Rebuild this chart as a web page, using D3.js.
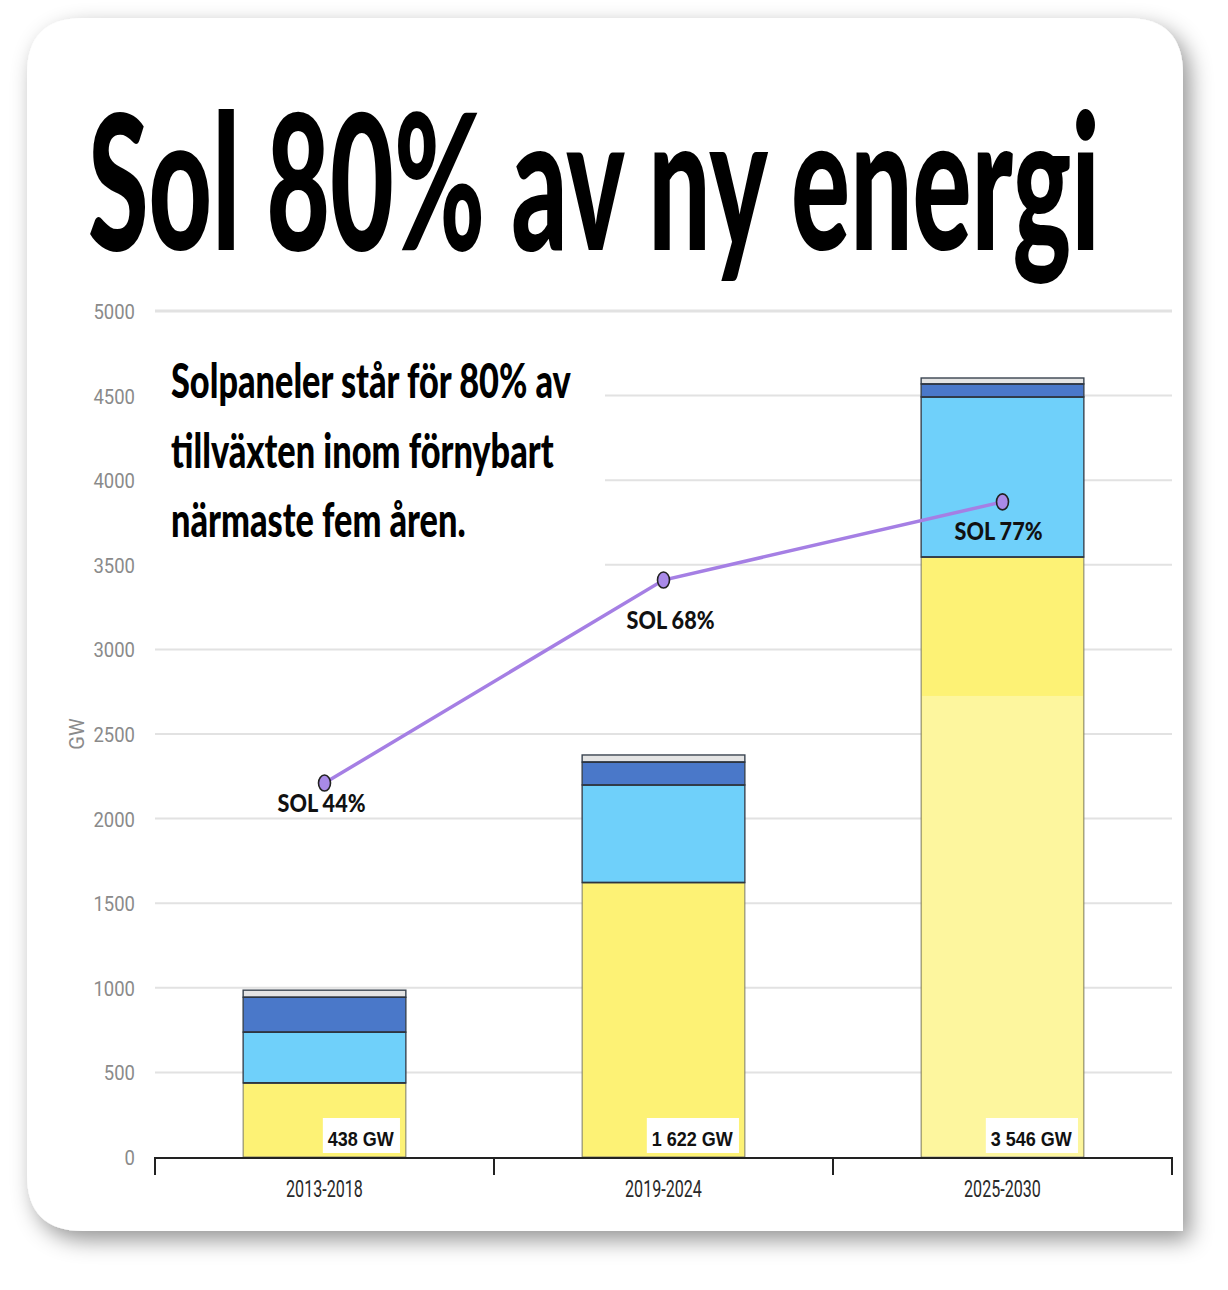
<!DOCTYPE html>
<html>
<head>
<meta charset="utf-8">
<script src="https://cdn.jsdelivr.net/npm/d3@7/dist/d3.min.js"></script>
<style>
  html, body { margin: 0; padding: 0; background: #ffffff; }
  svg { display: block; }
</style>
</head>
<body>
<svg id="chart" width="1228" height="1290"></svg>
<script>
// ---------- DATA ----------
const categories = ["2013-2018", "2019-2024", "2025-2030"];
const seriesNames = ["Sol", "Vind", "Vattenkraft", "Övrigt"];
const solValues   = [438, 1622, 3546];
const vindValues  = [300, 577, 946];
const vattenValues = [206, 135, 77];
const ovrigtValues = [42, 42, 35];
const lineValues  = [2210, 3410, 3872];
const lineLabels  = ["SOL 44%", "SOL 68%", "SOL 77%"];
const yTicks      = [0, 500, 1000, 1500, 2000, 2500, 3000, 3500, 4000, 4500, 5000];
const fadedBelow  = [null, null, 2725];
const titleText   = "Sol 80% av ny energi";
const subtitleLines = ["Solpaneler står för 80% av", "tillväxten inom förnybart", "närmaste fem åren."];
const yAxisLabel  = "GW";

// ---------- LAYOUT / STYLE ----------
const colors = ["#fdf275", "#6fd0fa", "#4a78c9", "#e4e4e4"];
const plot = { left: 155, right: 1172, top: 311, bottom: 1157 };
const card = { x: 27, y: 18, x2: 1183, y2: 1231, r: 56 };
const labelOffsets = [{dx: -3, dy: 29}, {dx: 7, dy: 49}, {dx: -4, dy: 38}];

const svg = d3.select("#chart");
const defs = svg.append("defs");
const f = defs.append("filter").attr("id", "shadow")
  .attr("x", "-10%").attr("y", "-10%").attr("width", "120%").attr("height", "120%");
f.append("feDropShadow").attr("dx", 7).attr("dy", 9).attr("stdDeviation", 11)
  .attr("flood-color", "#000").attr("flood-opacity", 0.42);

// card: rounded except bottom-right
const c = card;
const cardPath = `M${c.x + c.r},${c.y} L${c.x2 - c.r},${c.y} Q${c.x2},${c.y} ${c.x2},${c.y + c.r}
  L${c.x2},${c.y2} L${c.x + c.r},${c.y2} Q${c.x},${c.y2} ${c.x},${c.y2 - c.r}
  L${c.x},${c.y + c.r} Q${c.x},${c.y} ${c.x + c.r},${c.y} Z`;
svg.append("path").attr("d", cardPath).attr("fill", "#fff").attr("filter", "url(#shadow)");

function condenseBy(sel, k) {
  sel.each(function () {
    const L = this.getComputedTextLength();
    d3.select(this).attr("textLength", L * k).attr("lengthAdjust", "spacingAndGlyphs");
  });
}
function fitTo(sel, w) {
  const L = sel.node().getComputedTextLength();
  sel.attr("textLength", w).attr("lengthAdjust", "spacingAndGlyphs");
  return w / L;
}
// horizontal squeeze via transform (keeps bounding box honest)
function squeeze(sel, x0, y0, k) {
  sel.attr("x", 0).attr("y", 0).attr("transform", `translate(${x0},${y0}) scale(${k},1)`);
}

// ---------- SCALES ----------
const x = d3.scaleBand().domain(categories).range([plot.left, plot.right])
  .paddingInner(0.52).paddingOuter(0.26);
const y = d3.scaleLinear().domain([0, 5000]).range([plot.bottom, plot.top]);

// ---------- GRID ----------
svg.append("g").selectAll("line").data(yTicks.filter(d => d > 0)).join("line")
  .attr("x1", plot.left).attr("x2", plot.right)
  .attr("y1", d => y(d)).attr("y2", d => y(d))
  .attr("stroke", "#e2e2e2").attr("stroke-width", d => d === 5000 ? 3 : 2);

// white block behind subtitle
svg.append("rect").attr("x", plot.left - 2).attr("y", y(5000) + 16)
  .attr("width", 605 - plot.left + 2).attr("height", y(3500) - y(5000) - 6)
  .attr("fill", "#fff");

// ---------- Y AXIS ----------
const yAxis = d3.axisLeft(y).tickValues(yTicks).tickSize(0).tickPadding(0).tickFormat(d3.format("d"));
const yg = svg.append("g").attr("transform", `translate(135,0)`).call(yAxis);
yg.select(".domain").remove();
yg.selectAll("text").attr("font-family", "Roboto, 'Noto Sans', sans-serif")
  .attr("font-size", 21).attr("fill", "#8a8a8a").attr("dy", "0.36em");
condenseBy(yg.selectAll("text"), 0.88);

svg.append("text").attr("transform", `translate(84,${y(2500)}) rotate(-90)`)
  .attr("text-anchor", "middle").attr("font-family", "Roboto, sans-serif")
  .attr("font-size", 20).attr("fill", "#8a8a8a").text(yAxisLabel);

// ---------- BARS ----------
const rows = categories.map((cat, i) => ({
  cat, Sol: solValues[i], Vind: vindValues[i], Vattenkraft: vattenValues[i], "Övrigt": ovrigtValues[i]
}));
const stack = d3.stack().keys(seriesNames)(rows);
const barsG = svg.append("g");
stack.forEach((layer, li) => {
  barsG.append("g").selectAll("rect").data(layer).join("rect")
    .attr("x", d => x(d.data.cat))
    .attr("width", x.bandwidth())
    .attr("y", d => y(d[1]))
    .attr("height", d => y(d[0]) - y(d[1]))
    .attr("fill", colors[li])
    .attr("stroke", li === 0 ? "#7a7a6a" : "#3a4450")
    .attr("stroke-width", li === 0 ? 1 : 1.4);
});
barsG.append("g").selectAll("line").data(stack.slice(0, 3).flatMap(l => l)).join("line")
  .attr("x1", d => x(d.data.cat)).attr("x2", d => x(d.data.cat) + x.bandwidth())
  .attr("y1", d => y(d[1])).attr("y2", d => y(d[1]))
  .attr("stroke", "#2d3540").attr("stroke-width", 1.6);
barsG.append("g").selectAll("rect").data(categories.filter((c, i) => fadedBelow[i] !== null)).join("rect")
  .attr("x", d => x(d) + 1).attr("width", x.bandwidth() - 2)
  .attr("y", d => y(fadedBelow[categories.indexOf(d)]))
  .attr("height", d => y(0) - y(fadedBelow[categories.indexOf(d)]))
  .attr("fill", "#fff").attr("opacity", 0.3);

// ---------- VALUE LABELS ----------
const fmt = d3.formatLocale({ decimal: ",", thousands: " ", grouping: [3], currency: ["", ""] }).format(",d");
const vg = svg.append("g");
categories.forEach((cat, i) => {
  const g = vg.append("g");
  const t = g.append("text")
    .attr("x", x(cat) + x.bandwidth() - 12).attr("y", plot.bottom - 11)
    .attr("text-anchor", "end")
    .attr("font-family", "'Liberation Sans', Arial, sans-serif").attr("font-weight", 700)
    .attr("font-size", 20).attr("fill", "#111")
    .text(fmt(solValues[i]) + " GW");
  condenseBy(t, 0.9);
  const bb = t.node().getBBox();
  g.insert("rect", "text").attr("x", bb.x - 5).attr("y", plot.bottom - 39)
    .attr("width", bb.width + 11).attr("height", 35).attr("fill", "#fff");
});

// ---------- X AXIS ----------
const ax = svg.append("g");
ax.append("line").attr("x1", plot.left).attr("x2", plot.right)
  .attr("y1", plot.bottom + 1).attr("y2", plot.bottom + 1)
  .attr("stroke", "#222").attr("stroke-width", 2);
const bounds = d3.range(categories.length + 1).map(i => x.range()[0] + i * x.step());
ax.selectAll("line.tk").data(bounds).join("line").attr("class", "tk")
  .attr("x1", d => d).attr("x2", d => d)
  .attr("y1", plot.bottom).attr("y2", plot.bottom + 18)
  .attr("stroke", "#222").attr("stroke-width", 2);
const xl = ax.selectAll("text").data(categories).join("text")
  .attr("x", d => x(d) + x.bandwidth() / 2).attr("y", plot.bottom + 40)
  .attr("text-anchor", "middle").attr("font-family", "Roboto, sans-serif")
  .attr("font-size", 23).attr("fill", "#2a2a2a").text(d => d);
condenseBy(xl, 0.7);

// ---------- LINE ----------
const pts = categories.map((cat, i) => [x(cat) + x.bandwidth() / 2, y(lineValues[i])]);
svg.append("path").attr("d", d3.line()(pts)).attr("fill", "none")
  .attr("stroke", "#a57fe4").attr("stroke-width", 3.5);
svg.append("g").selectAll("ellipse").data(pts).join("ellipse")
  .attr("cx", d => d[0]).attr("cy", d => d[1]).attr("rx", 6).attr("ry", 8)
  .attr("fill", "#a98ae8").attr("stroke", "#222").attr("stroke-width", 1.6);
const sl = svg.append("g").selectAll("text").data(lineLabels).join("text")
  .attr("x", (d, i) => pts[i][0] + labelOffsets[i].dx)
  .attr("y", (d, i) => pts[i][1] + labelOffsets[i].dy)
  .attr("text-anchor", "middle").attr("font-family", "Lato, 'Open Sans', sans-serif")
  .attr("font-weight", 900).attr("font-size", 25).attr("fill", "#111").text(d => d);
sl.each(function () { fitTo(d3.select(this), 88); });

// ---------- TITLE & SUBTITLE ----------
const title = svg.append("text")
  .attr("font-family", "Lato, Roboto, sans-serif").attr("font-weight", 900)
  .attr("font-size", 188).attr("fill", "#000").text(titleText);
const tk = 1012 / title.node().getComputedTextLength();
squeeze(title, 88, 250, tk);

const subs = svg.append("g").selectAll("text").data(subtitleLines).join("text")
  .attr("font-family", "Lato, Roboto, sans-serif").attr("font-weight", 900)
  .attr("font-size", 47).attr("fill", "#000").text(d => d);
const sk = 400 / subs.nodes()[0].getComputedTextLength();
subs.each(function (d, i) { squeeze(d3.select(this), 171, 398 + i * 69.5, sk); });
</script>
</body>
</html>
